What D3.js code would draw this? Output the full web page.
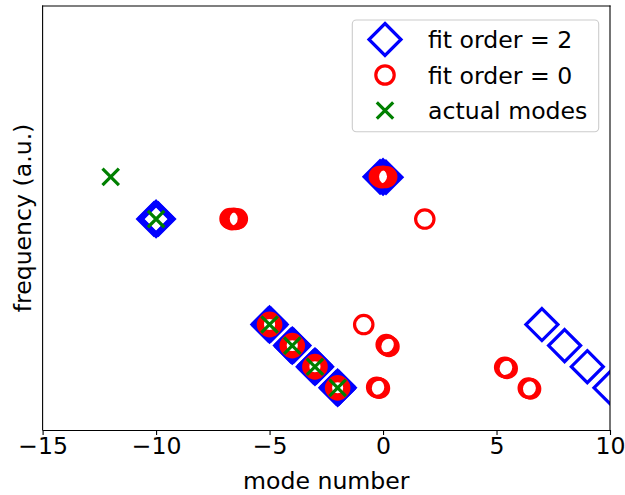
<!DOCTYPE html>
<html>
<head>
<meta charset="utf-8">
<script src="https://cdn.jsdelivr.net/npm/d3@7/dist/d3.min.js"></script>
<style>
  body { margin: 0; background: #fff; }
  svg { display: block; }
  text { font-family: "DejaVu Sans", sans-serif; fill: #000; }
</style>
</head>
<body>
<svg id="chart" width="625" height="495"></svg>
<script>
// Axis ticks
const xTicks = [-15, -10, -5, 0, 5, 10];

// Actual modes (mode number, frequency in a.u.)
const actualModes = [-12, -10, -5, -4, -3, -2];
const actualFreqs = [12, 10, 5, 4, 3, 2];

// Fit results, order 2 (several fits land almost on top of each other)
const fit2Modes = [
  -10.1, -9.9, -10.0, -10.0,
  -0.13, 0.0, 0.13, 0.0,
  -5.07, -4.93, -5.0, -5.0,
  -4.07, -3.93, -4.0, -4.0,
  -3.07, -2.93, -3.0, -3.0,
  -2.07, -1.93, -2.0, -2.0,
  7, 8, 9, 10
];
const fit2Freqs = [
  10.0, 10.0, 10.08, 9.93,
  12.0, 12.05, 11.98, 11.95,
  5.0, 5.0, 5.07, 4.93,
  4.0, 4.0, 4.07, 3.93,
  3.0, 3.0, 3.07, 2.93,
  2.0, 2.0, 2.07, 1.93,
  5, 4, 3, 2
];

// Fit results, order 0
const fit0Modes = [
  -6.74, -6.66, -6.58, -6.50, -6.42,
  -0.16, -0.08, 0.0, 0.08, 0.16,
  1.84,
  -0.85,
  0.14, 0.20, 0.26,
  -0.28, -0.22, -0.16,
  5.36, 5.42, 5.47,
  6.40, 6.45, 6.50,
  -5.09, -4.91, -5.0, -5.0,
  -4.09, -3.91, -4.0, -4.0,
  -3.09, -2.91, -3.0, -3.0,
  -2.09, -1.91, -2.0, -2.0
];
const fit0Freqs = [
  10.02, 9.97, 10.03, 9.98, 10.01,
  12.02, 11.96, 12.03, 11.97, 12.0,
  10,
  5,
  4.05, 4.0, 3.96,
  2.03, 2.0, 1.98,
  2.97, 2.94, 2.92,
  1.99, 1.97, 1.95,
  5.0, 5.0, 5.1, 4.9,
  4.0, 4.0, 4.1, 3.9,
  3.0, 3.0, 3.1, 2.9,
  2.0, 2.0, 2.1, 1.9
];

const legendLabels = ["fit order = 2", "fit order = 0", "actual modes"];

const FONT = 23.6;
const svg = d3.select("#chart");
const plot = { left: 42.6, right: 610, top: 6, bottom: 430 };

const x = d3.scaleLinear().domain([-15, 10]).range([plot.left, plot.right]);
const y = d3.scaleLinear().domain([0, 20.1]).range([plot.bottom, plot.top]);

svg.append("defs").append("clipPath").attr("id", "plotClip")
  .append("rect")
  .attr("x", plot.left).attr("y", plot.top)
  .attr("width", plot.right - plot.left).attr("height", plot.bottom - plot.top);

// marker shapes
const diamondPath = h => `M0,${-h}L${h},0L0,${h}L${-h},0Z`;
const crossPath = h => `M${-h},${-h}L${h},${h}M${-h},${h}L${h},${-h}`;

function drawDiamond(g, cx, cy) {
  g.append("path").attr("d", diamondPath(16))
    .attr("transform", `translate(${cx},${cy})`)
    .attr("fill", "none").attr("stroke", "#0000ff")
    .attr("stroke-width", 3.2).attr("stroke-linejoin", "miter");
}
function drawCircle(g, cx, cy) {
  g.append("circle").attr("cx", cx).attr("cy", cy).attr("r", 9.2)
    .attr("fill", "none").attr("stroke", "#ff0000").attr("stroke-width", 3.2);
}
function drawCross(g, cx, cy) {
  g.append("path").attr("d", crossPath(8.2))
    .attr("transform", `translate(${cx},${cy})`)
    .attr("fill", "none").attr("stroke", "#008000").attr("stroke-width", 3.2);
}

const marks = svg.append("g").attr("clip-path", "url(#plotClip)");
fit2Modes.forEach((m, i) => drawDiamond(marks, x(m), y(fit2Freqs[i])));
fit0Modes.forEach((m, i) => drawCircle(marks, x(m), y(fit0Freqs[i])));
actualModes.forEach((m, i) => drawCross(marks, x(m), y(actualFreqs[i])));

// frame
[[plot.left, plot.top, plot.left, plot.bottom],
 [plot.right, plot.top, plot.right, plot.bottom],
 [plot.left, plot.top, plot.right, plot.top]].forEach(([x1, y1, x2, y2]) => {
  svg.append("line").attr("x1", x1).attr("y1", y1).attr("x2", x2).attr("y2", y2)
    .attr("stroke", "#000").attr("stroke-width", 1.1)
    .attr("stroke-linecap", "square");
});

// x axis
const xAxis = d3.axisBottom(x).tickValues(xTicks).tickSize(5).tickSizeOuter(0)
  .tickFormat(d => d < 0 ? "\u2212" + Math.abs(d) : String(d));
const gx = svg.append("g").attr("transform", `translate(0,${plot.bottom})`).call(xAxis);
gx.select(".domain").attr("stroke", "#000").attr("stroke-width", 1.1);
gx.selectAll(".tick line").attr("stroke", "#000").attr("stroke-width", 1.1);
gx.selectAll(".tick text")
  .attr("font-family", "DejaVu Sans").attr("font-size", FONT)
  .attr("fill", "#000").attr("dy", null).attr("y", 24);

// axis titles
svg.append("text").attr("x", (plot.left + plot.right) / 2).attr("y", 488.5)
  .attr("text-anchor", "middle").attr("font-size", FONT).text("mode number");
svg.append("text")
  .attr("transform", `translate(31,${(plot.top + plot.bottom) / 2}) rotate(-90)`)
  .attr("text-anchor", "middle").attr("font-size", FONT).text("frequency (a.u.)");

// legend
const legend = svg.append("g");
legend.append("rect").attr("x", 352.3).attr("y", 20).attr("width", 246.4).attr("height", 111.7)
  .attr("rx", 4).attr("fill", "#fff").attr("fill-opacity", 0.8)
  .attr("stroke", "#cccccc").attr("stroke-width", 1.1);
const rowY = [39.5, 75, 110.5];
const drawers = [drawDiamond, drawCircle, drawCross];
legendLabels.forEach((lab, i) => {
  drawers[i](legend, 385, rowY[i]);
  legend.append("text").attr("x", 428).attr("y", rowY[i] + 8.5)
    .attr("font-size", FONT).text(lab);
});
</script>
</body>
</html>
